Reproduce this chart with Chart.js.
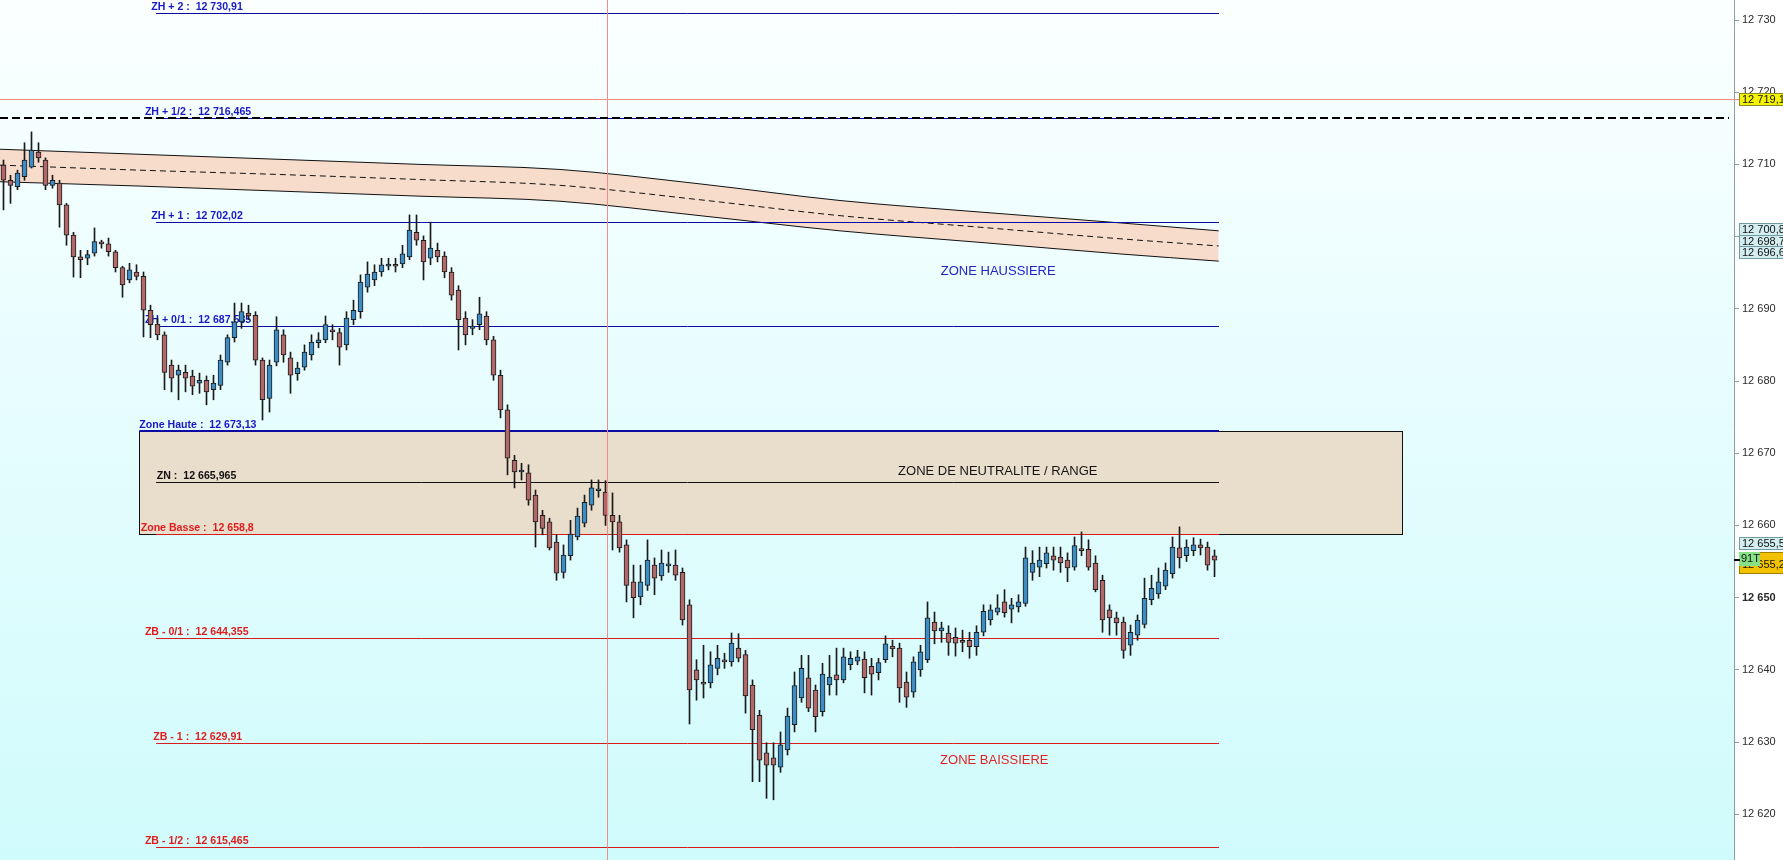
<!DOCTYPE html>
<html>
<head>
<meta charset="utf-8">
<script src="https://cdn.jsdelivr.net/npm/chart.js@4.4.0/dist/chart.umd.min.js"></script>
<style>
    html, body { margin: 0; padding: 0; background: #ffffff; }
    #wrap { width: 1783px; height: 860px; position: relative; }
</style>
</head>
<body>
<div id="wrap"><canvas id="priceChart"></canvas></div>
<script>
    // Candles (one bar per 7px)
    const opens = [
        12709.9, 12707.8, 12706.9, 12708.3, 12709.6, 12711.7, 12710.6, 12707.1, 12707.4, 12704.4,
        12700.2, 12697.2, 12697.0, 12697.7, 12699.1, 12699.0, 12697.9, 12695.7, 12694.0, 12695.1,
        12694.5, 12689.8, 12687.9, 12686.4, 12682.2, 12680.8, 12681.2, 12680.7, 12679.7, 12680.1,
        12678.8, 12679.4, 12682.6, 12686.0, 12688.2, 12689.4, 12689.1, 12682.9, 12677.6, 12682.6,
        12686.4, 12683.2, 12681.0, 12681.9, 12683.6, 12685.3, 12685.7, 12687.1, 12686.7, 12685.0,
        12688.5, 12689.6, 12693.0, 12694.0, 12695.1, 12695.9, 12696.1, 12696.2, 12697.2, 12700.6,
        12699.5, 12697.0, 12698.1, 12697.3, 12695.1, 12692.6, 12688.7, 12687.3, 12687.8, 12689.0,
        12685.7, 12680.8, 12676.0, 12669.0, 12667.4, 12667.3, 12664.2, 12661.4, 12660.5, 12657.7,
        12653.5, 12655.8, 12658.4, 12660.3, 12662.8, 12664.8, 12664.6, 12661.4, 12660.5, 12657.3,
        12652.2, 12650.1, 12651.7, 12654.5, 12653.0, 12654.4, 12654.5, 12653.5, 12649.0, 12640.0,
        12638.3, 12638.2, 12640.2, 12641.2, 12641.1, 12643.0, 12642.1, 12637.9, 12633.7, 12628.5,
        12627.8, 12626.5, 12628.9, 12632.4, 12636.1, 12638.9, 12637.2, 12634.2, 12637.9, 12639.3,
        12638.6, 12640.7, 12641.2, 12641.5, 12640.5, 12639.6, 12641.4, 12643.3, 12643.0, 12638.3,
        12636.9, 12640.0, 12641.4, 12646.6, 12645.4, 12645.1, 12644.5, 12644.1, 12644.1, 12643.2,
        12645.2, 12646.9, 12648.0, 12649.4, 12648.4, 12648.7, 12649.2, 12653.5, 12654.2, 12654.7,
        12655.8, 12655.6, 12655.2, 12654.2, 12656.7, 12656.7, 12654.8, 12652.4, 12648.3, 12647.2,
        12646.6, 12643.4, 12644.8, 12646.3, 12649.7, 12650.5, 12651.6, 12653.3, 12656.9, 12655.8,
        12656.5, 12657.3, 12657.0, 12655.8
    ];
    const highs = [
        12710.6, 12708.5, 12709.2, 12713.0, 12714.5, 12713.0, 12710.9, 12708.5, 12707.8, 12704.6,
        12700.6, 12698.1, 12698.1, 12701.2, 12699.5, 12699.8, 12698.1, 12695.9, 12696.3, 12696.1,
        12695.1, 12690.5, 12688.7, 12686.8, 12682.9, 12682.2, 12682.2, 12681.5, 12681.1, 12680.7,
        12680.8, 12683.6, 12686.4, 12690.8, 12690.8, 12690.5, 12689.6, 12683.2, 12682.9, 12688.9,
        12687.1, 12684.0, 12682.6, 12685.0, 12686.4, 12686.7, 12689.0, 12687.8, 12687.3, 12689.6,
        12691.2, 12694.7, 12696.5, 12696.1, 12697.0, 12697.0, 12697.0, 12698.8, 12703.0, 12703.0,
        12700.1, 12702.0, 12699.1, 12697.9, 12695.7, 12693.2, 12689.6, 12688.5, 12691.6, 12689.6,
        12686.2, 12681.5, 12676.7, 12669.7, 12668.6, 12668.4, 12664.9, 12662.1, 12661.0, 12658.7,
        12657.3, 12660.7, 12662.4, 12664.2, 12666.3, 12666.3, 12666.2, 12664.5, 12661.4, 12658.0,
        12654.5, 12654.5, 12658.0, 12655.5, 12656.6, 12656.3, 12656.6, 12654.1, 12649.7, 12641.4,
        12643.4, 12642.5, 12643.4, 12642.3, 12645.1, 12645.0, 12642.7, 12638.6, 12634.4, 12629.9,
        12629.9, 12631.4, 12634.7, 12639.7, 12642.0, 12642.0, 12637.9, 12640.9, 12642.0, 12643.0,
        12643.0, 12642.5, 12642.7, 12642.5, 12641.6, 12641.6, 12644.7, 12644.1, 12643.7, 12639.7,
        12641.8, 12643.4, 12649.4, 12648.0, 12646.6, 12646.1, 12645.8, 12645.5, 12645.2, 12646.1,
        12649.0, 12649.0, 12650.4, 12651.1, 12649.9, 12650.4, 12657.0, 12656.5, 12657.0, 12657.0,
        12657.0, 12657.0, 12656.2, 12658.4, 12659.1, 12658.0, 12655.8, 12653.1, 12649.0, 12648.0,
        12647.3, 12646.2, 12647.6, 12652.7, 12653.1, 12654.1, 12654.8, 12658.4, 12659.8, 12658.0,
        12658.3, 12658.1, 12657.7, 12656.6
    ];
    const lows = [
        12703.7, 12704.6, 12706.5, 12707.8, 12709.5, 12710.3, 12706.5, 12706.7, 12701.3, 12698.8,
        12694.4, 12694.3, 12696.1, 12697.3, 12698.4, 12697.3, 12695.1, 12691.6, 12693.6, 12694.0,
        12686.1, 12686.0, 12685.7, 12678.8, 12678.5, 12677.4, 12678.5, 12678.1, 12678.3, 12676.7,
        12677.4, 12678.8, 12682.2, 12685.4, 12687.3, 12688.5, 12682.2, 12674.6, 12675.7, 12682.1,
        12682.6, 12678.3, 12680.1, 12681.5, 12682.9, 12684.6, 12685.3, 12685.7, 12682.2, 12684.3,
        12687.8, 12688.7, 12692.3, 12693.2, 12694.5, 12695.4, 12695.1, 12695.7, 12696.8, 12698.8,
        12694.0, 12696.1, 12696.5, 12694.3, 12691.2, 12684.3, 12685.0, 12686.4, 12687.1, 12685.0,
        12680.1, 12674.9, 12667.0, 12665.2, 12666.3, 12662.8, 12657.0, 12658.7, 12656.6, 12652.4,
        12652.7, 12655.2, 12658.0, 12659.8, 12662.1, 12663.9, 12660.0, 12656.6, 12656.3, 12649.4,
        12647.2, 12649.0, 12651.0, 12650.4, 12652.4, 12653.5, 12652.4, 12646.2, 12632.5, 12635.8,
        12636.1, 12637.5, 12639.3, 12640.2, 12640.5, 12641.1, 12634.0, 12624.5, 12624.5, 12622.2,
        12622.0, 12625.8, 12628.2, 12631.4, 12635.5, 12634.2, 12631.4, 12633.6, 12636.5, 12636.5,
        12638.2, 12640.0, 12640.7, 12636.8, 12636.5, 12638.6, 12641.0, 12641.8, 12635.5, 12634.8,
        12636.2, 12639.1, 12641.0, 12643.6, 12643.8, 12642.0, 12641.9, 12642.5, 12641.6, 12642.0,
        12644.7, 12646.2, 12647.6, 12647.3, 12646.5, 12648.0, 12648.8, 12652.4, 12652.9, 12654.1,
        12653.8, 12653.5, 12652.2, 12653.8, 12655.8, 12653.8, 12650.8, 12645.2, 12644.8, 12644.8,
        12641.6, 12642.0, 12644.1, 12645.8, 12649.0, 12649.9, 12651.1, 12652.7, 12654.1, 12655.0,
        12655.8, 12655.9, 12653.8, 12652.9
    ];
    const closes = [
        12707.8, 12707.1, 12708.8, 12710.6, 12712.0, 12710.9, 12707.1, 12707.8, 12704.4, 12700.2,
        12697.2, 12696.8, 12697.5, 12699.3, 12699.0, 12697.9, 12695.7, 12693.3, 12695.4, 12694.5,
        12689.8, 12687.8, 12686.4, 12681.2, 12680.4, 12681.5, 12680.4, 12679.3, 12680.1, 12678.5,
        12679.7, 12682.9, 12686.0, 12688.2, 12689.6, 12689.0, 12682.9, 12677.4, 12682.2, 12687.1,
        12683.6, 12680.8, 12681.8, 12684.0, 12685.4, 12685.7, 12687.8, 12686.8, 12684.7, 12688.7,
        12689.8, 12693.7, 12694.8, 12695.1, 12696.1, 12696.2, 12695.9, 12697.6, 12700.9, 12699.5,
        12696.5, 12698.4, 12697.2, 12695.1, 12691.9, 12688.5, 12686.4, 12687.6, 12689.3, 12685.7,
        12680.8, 12676.0, 12669.3, 12667.4, 12667.5, 12663.5, 12660.5, 12659.6, 12656.9, 12653.4,
        12655.9, 12658.8, 12661.3, 12663.2, 12665.2, 12664.9, 12661.4, 12660.5, 12656.9, 12651.7,
        12650.0, 12652.2, 12655.2, 12652.7, 12654.8, 12654.5, 12653.1, 12646.9, 12637.2, 12638.6,
        12638.0, 12640.7, 12641.6, 12641.1, 12643.7, 12641.6, 12636.4, 12631.7, 12627.5, 12626.8,
        12626.8, 12629.6, 12633.6, 12637.8, 12640.2, 12634.7, 12633.5, 12639.4, 12639.0, 12638.6,
        12641.8, 12641.6, 12641.8, 12638.9, 12639.4, 12641.0, 12643.6, 12642.9, 12637.5, 12636.2,
        12641.1, 12642.5, 12647.2, 12645.4, 12645.8, 12643.8, 12643.7, 12643.8, 12643.2, 12645.2,
        12648.1, 12648.3, 12648.6, 12647.9, 12649.0, 12649.4, 12655.5, 12654.8, 12655.2, 12656.2,
        12655.2, 12654.8, 12654.1, 12657.2, 12656.5, 12654.2, 12651.1, 12646.9, 12647.2, 12646.5,
        12642.7, 12645.2, 12646.9, 12649.9, 12651.3, 12652.2, 12653.8, 12657.0, 12655.5, 12657.0,
        12657.3, 12656.9, 12654.5, 12655.2
    ];

    // Moving average band (bar index -> value)
    const bandPos   = [-0.5, 19.5, 39.5, 59.5, 79.5, 99.5, 119.5, 139.5, 159.5, 173.6];
    const bandUpper = [12712.1, 12711.4, 12710.7, 12710.0, 12709.3, 12707.3, 12705.0, 12703.4, 12701.9, 12700.8];
    const bandMid   = [12709.9, 12709.2, 12708.6, 12707.9, 12707.1, 12705.1, 12702.9, 12701.3, 12699.7, 12698.7];
    const bandLower = [12707.6, 12707.0, 12706.3, 12705.6, 12704.9, 12702.9, 12700.8, 12699.2, 12697.6, 12696.6];

    // Levels
    const levelNames  = ['ZH + 2', 'ZH + 1/2', 'ZH + 1', 'ZH + 0/1', 'Zone Haute', 'ZN', 'Zone Basse', 'ZB - 0/1', 'ZB - 1', 'ZB - 1/2'];
    const levelValues = [12730.91, 12716.465, 12702.02, 12687.585, 12673.13, 12665.965, 12658.8, 12644.355, 12629.91, 12615.465];

    const yTicks = [12620, 12630, 12640, 12650, 12660, 12670, 12680, 12690, 12700, 12710, 12720, 12730];
    const cursorValue = 12719.1;
    const otherTag = 12655.5;

    const FONT = "'Liberation Sans', Arial, sans-serif";
    const fmtInt = s => String(s).replace(/\B(?=(\d{3})+(?!\d))/g, ' ');
    const fmtNum = v => { const [a, b] = String(v).split('.'); return fmtInt(a) + (b ? ',' + b : ''); };
    const fmt1 = v => { const [a, b] = v.toFixed(1).split('.'); return fmtInt(a) + ',' + b; };

    const lastIdx = closes.length - 1;
    const lineEnd = 173.64;

    const levelStyle = [
        { line: '#0c0ca4', text: '#1818c8', from: 21.8, lx: 21.1, w: 1 },
        { line: '#0c0ca4', text: '#1818c8', from: 21.8, lx: 20.2, w: 1 },
        { line: '#0c0ca4', text: '#1818c8', from: 21.8, lx: 21.1, w: 1 },
        { line: '#0c0ca4', text: '#1818c8', from: 21.8, lx: 20.2, w: 1 },
        { line: '#0c0ca4', text: '#1818c8', from: 19.4, lx: 19.4, w: 2 },
        { line: '#111111', text: '#111111', from: 21.8, lx: 21.9, w: 1 },
        { line: '#d81c1c', text: '#e01c1c', from: 21.8, lx: 19.6, w: 1 },
        { line: '#d81c1c', text: '#e01c1c', from: 21.8, lx: 20.2, w: 1 },
        { line: '#d81c1c', text: '#e01c1c', from: 21.8, lx: 21.4, w: 1 },
        { line: '#d81c1c', text: '#e01c1c', from: 21.8, lx: 20.2, w: 1 }
    ];
    const zoneTitles = [
        { text: 'ZONE HAUSSIERE', at: 133.9, v: 12695.2, color: '#2323c8' },
        { text: 'ZONE DE NEUTRALITE / RANGE', at: 127.8, v: 12667.5, color: '#151515' },
        { text: 'ZONE BAISSIERE', at: 133.8, v: 12627.5, color: '#e02424' }
    ];

    function hLine(ctx, x1, x2, y, color, w) {
        ctx.strokeStyle = color;
        ctx.lineWidth = w;
        const yy = w % 2 ? Math.round(y) + 0.5 : Math.round(y);
        ctx.beginPath(); ctx.moveTo(x1, yy); ctx.lineTo(x2, yy); ctx.stroke();
    }

    function tag(ctx, x, top, h, fill, stroke, text) {
        ctx.fillStyle = fill;
        ctx.fillRect(x, top, 60, h);
        ctx.strokeStyle = stroke;
        ctx.lineWidth = 1;
        ctx.strokeRect(x + 0.5, top + 0.5, 60, h - 1);
        ctx.fillStyle = '#111';
        ctx.font = '11px ' + FONT;
        ctx.textBaseline = 'middle';
        ctx.textAlign = 'left';
        ctx.fillText(text, x + 3, top + h / 2 + 0.5);
    }

    const overlay = {
        id: 'overlay',
        beforeDraw(chart) {
            const { ctx, chartArea: a } = chart;
            const g = ctx.createLinearGradient(0, a.top, 0, a.bottom);
            g.addColorStop(0, '#fbffff');
            g.addColorStop(1, '#d0fbfc');
            ctx.save();
            ctx.fillStyle = g;
            ctx.fillRect(a.left, a.top, a.right - a.left, a.bottom - a.top);
            ctx.restore();
        },
        beforeDatasetsDraw(chart) {
            // neutral zone box
            const { ctx, scales: { x, y } } = chart;
            const x1 = Math.round(x.getPixelForValue(19.36)) + 0.5;
            const x2 = Math.round(x.getPixelForValue(199.8)) + 0.5;
            const y1 = Math.round(y.getPixelForValue(levelValues[4])) + 0.5;
            const y2 = Math.round(y.getPixelForValue(levelValues[6])) + 0.5;
            ctx.save();
            ctx.fillStyle = '#e9ddcc';
            ctx.fillRect(x1, y1, x2 - x1, y2 - y1);
            ctx.strokeStyle = '#111';
            ctx.lineWidth = 1;
            ctx.strokeRect(x1, y1, x2 - x1, y2 - y1);
            ctx.restore();
        },
        afterDatasetDraw(chart, args) {
            if (args.index !== 2) return;
            const { ctx, scales: { x, y } } = chart;
            ctx.save();
            const xEnd = x.getPixelForValue(lineEnd);
            levelValues.forEach((v, i) => {
                const st = levelStyle[i];
                const py = y.getPixelForValue(v);
                hLine(ctx, x.getPixelForValue(st.from), xEnd, py, st.line, st.w);
                ctx.fillStyle = st.text;
                ctx.font = 'bold 10.6px ' + FONT;
                ctx.textBaseline = 'alphabetic';
                ctx.textAlign = 'left';
                ctx.fillText(levelNames[i] + ' :  ' + fmtNum(v), x.getPixelForValue(st.lx), Math.round(py) - 3);
            });
            zoneTitles.forEach(z => {
                ctx.fillStyle = z.color;
                ctx.font = '13px ' + FONT;
                ctx.textBaseline = 'middle';
                ctx.fillText(z.text, x.getPixelForValue(z.at), y.getPixelForValue(z.v));
            });
            ctx.restore();
        },
        afterDatasetsDraw(chart) {
            const { ctx, chartArea: a, scales: { x, y } } = chart;
            ctx.save();
            // cursor
            const cx = Math.round(x.getPixelForValue(86.2)) + 0.5;
            ctx.strokeStyle = '#f08c8c';
            ctx.lineWidth = 1;
            ctx.beginPath(); ctx.moveTo(cx, a.top); ctx.lineTo(cx, a.bottom); ctx.stroke();
            hLine(ctx, a.left, a.right + 6, y.getPixelForValue(cursorValue), '#f08c8c', 1);
            // dashed level
            ctx.setLineDash([8, 4]);
            hLine(ctx, a.left, a.right - 5, y.getPixelForValue(levelValues[1]), '#000000', 2);
            ctx.setLineDash([]);
            ctx.restore();
        },
        afterDraw(chart) {
            const { ctx, chartArea: a, scales: { y } } = chart;
            const x0 = a.right + 5;
            ctx.save();
            const cy = Math.round(y.getPixelForValue(cursorValue));
            tag(ctx, x0, cy - 6, 13, '#f4f400', '#8c8c20', fmt1(cursorValue));
            const by = Math.round(y.getPixelForValue(bandUpper[bandUpper.length - 1])) - 8;
            tag(ctx, x0, by, 13, '#d4eef0', '#6f9aa2', fmt1(bandUpper[bandUpper.length - 1]));
            tag(ctx, x0, by + 12, 12, '#d4eef0', '#6f9aa2', fmt1(bandMid[bandMid.length - 1]));
            tag(ctx, x0, by + 23, 13, '#d4eef0', '#6f9aa2', fmt1(bandLower[bandLower.length - 1]));
            const ly = Math.round(y.getPixelForValue(closes[lastIdx]));
            tag(ctx, x0, ly - 23, 13, '#d4eef0', '#6f9aa2', fmt1(otherTag));
            tag(ctx, x0, ly - 8, 22, '#f2c200', '#a08000', '');
            ctx.fillStyle = '#111';
            ctx.font = '11px ' + FONT;
            ctx.textBaseline = 'middle';
            ctx.fillText(fmt1(closes[lastIdx]), x0 + 3, ly + 5);
            ctx.fillStyle = '#86e086';
            ctx.fillRect(x0, ly - 8, 21, 14);
            ctx.fillStyle = '#111';
            ctx.fillText('91T', x0 + 2, ly - 1);
            ctx.fillStyle = '#000';
            ctx.fillRect(a.right, ly - 1, 6, 2);
            ctx.restore();
        }
    };

    const ctx = document.getElementById('priceChart').getContext('2d');
    const priceChart = new Chart(ctx, {
        type: 'bar',
        data: {
            datasets: [
                {
                    type: 'line', order: 12,
                    data: bandPos.map((p, i) => ({ x: p, y: bandUpper[i] })),
                    borderColor: '#111', borderWidth: 1, pointRadius: 0,
                    cubicInterpolationMode: 'monotone',
                    fill: { target: 2 }, backgroundColor: '#f8dccb'
                },
                {
                    type: 'line', order: 11,
                    data: bandPos.map((p, i) => ({ x: p, y: bandMid[i] })),
                    borderColor: '#111', borderWidth: 1, borderDash: [6, 4], pointRadius: 0,
                    cubicInterpolationMode: 'monotone', fill: false
                },
                {
                    type: 'line', order: 10,
                    data: bandPos.map((p, i) => ({ x: p, y: bandLower[i] })),
                    borderColor: '#111', borderWidth: 1, pointRadius: 0,
                    cubicInterpolationMode: 'monotone', fill: false
                },
                {
                    // wicks
                    order: 2, grouped: false,
                    data: closes.map((c, i) => ({ x: i, y: [lows[i], highs[i]] })),
                    backgroundColor: '#1a1a1a', borderWidth: 0, barThickness: 1
                },
                {
                    // bodies
                    order: 1, grouped: false,
                    data: closes.map((c, i) => ({ x: i, y: [opens[i], c] })),
                    backgroundColor: closes.map((c, i) => c >= opens[i] ? '#3d8dc4' : '#b06868'),
                    borderColor: '#1c1c1c', borderWidth: 1, borderSkipped: false,
                    barThickness: 5, minBarLength: 2
                }
            ]
        },
        options: {
            responsive: true,
            maintainAspectRatio: false,
            animation: false,
            layout: { padding: 0 },
            plugins: { legend: { display: false }, tooltip: { enabled: false } },
            scales: {
                x: { type: 'linear', display: false, min: -0.5, max: 247.21, offset: false },
                y: {
                    position: 'right',
                    min: 12613.66, max: 12732.77,
                    afterFit(s) { s.width = 49; s.paddingTop = 0; s.paddingBottom = 0; },
                    afterBuildTicks(s) { s.ticks = yTicks.map(v => ({ value: v })); },
                    border: { color: '#8c9ea6' },
                    grid: { drawOnChartArea: false, tickLength: 5, color: '#8c9ea6' },
                    ticks: {
                        padding: 3,
                        color: '#2a2a2a',
                        font: c => ({ family: FONT, size: 11, weight: c.tick && c.tick.value === 12650 ? 'bold' : 'normal' }),
                        callback: v => fmtInt(v)
                    }
                }
            }
        },
        plugins: [overlay]
    });
</script>
</body>
</html>
